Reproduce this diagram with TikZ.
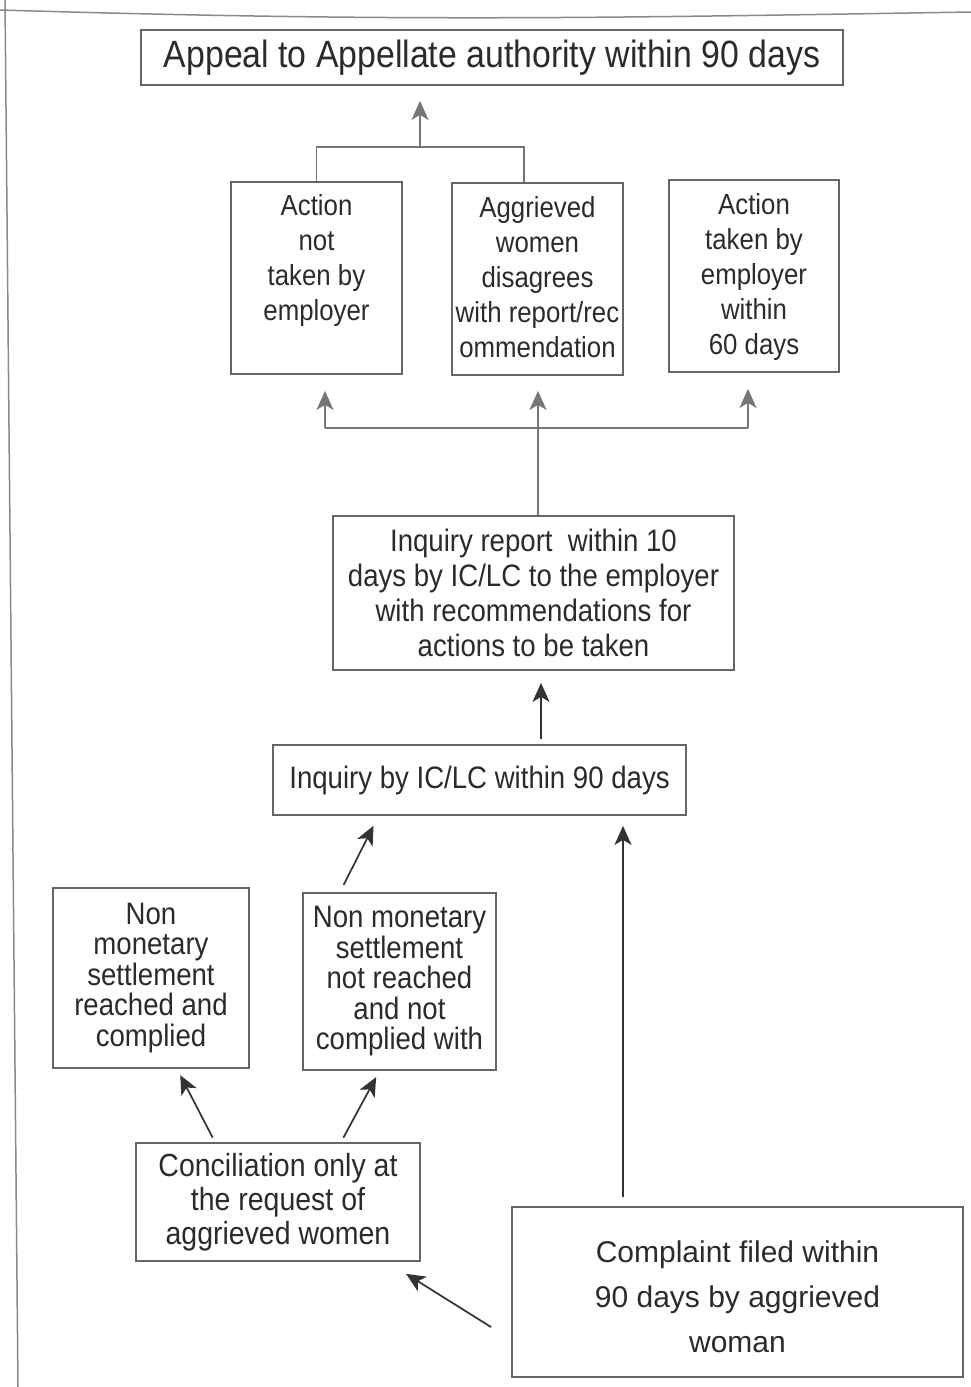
\documentclass[tikz,border=0pt]{standalone}
\usepackage{fontspec}
\setmainfont{Liberation Sans}[FakeStretch=0.89]
\newfontfamily\wideff{Liberation Sans}
\usetikzlibrary{arrows.meta}
\definecolor{ink}{HTML}{2B2B2B}
\definecolor{edge}{HTML}{666666}
\definecolor{lgray}{HTML}{767676}
\definecolor{dgray}{HTML}{333333}
\definecolor{scan}{HTML}{8A8A8A}
\begin{document}
\begin{tikzpicture}[x=1pt,y=-1pt,
  box/.style={draw=edge, line width=1.8pt, inner sep=0pt, text=ink, align=center},
  txt/.style={text=ink, align=center, inner sep=0pt},
  conn/.style={draw=lgray, line width=1.6pt},
  tip/.style={-{Stealth[length=19pt,width=17pt,inset=5pt]}},
  arrl/.style={conn, tip},
  arrd/.style={draw=dgray, line width=1.7pt, tip},
  fa/.style={font=\fontsize{29}{35}\selectfont},
  fb/.style={font=\fontsize{31}{35}\selectfont},
  fc/.style={font=\fontsize{31}{30.5}\selectfont},
  fd/.style={font=\fontsize{32}{34}\selectfont},
  fe/.style={font=\wideff\fontsize{30}{45}\selectfont}]
\useasboundingbox (0,0) rectangle (971,1387);
\fill[white] (0,0) rectangle (971,1387);
% scanned page border
\draw[scan, line width=1.5pt] (5,0) -- (18,1387);
\draw[scan, line width=1.5pt] (0,10) .. controls (400,22) and (600,18) .. (971,12);

% boxes
\node[box, minimum width=702pt, minimum height=55pt, font=\fontsize{38}{44}\selectfont] (appeal) at (492,57.5) {Appeal to Appellate authority within 90 days};

\node[box, minimum width=171pt, minimum height=192pt] (a1) at (316.5,278) {};
\node[txt, fa, anchor=north] (t1) at (316.5,194) {Action\\not\\taken by\\employer};
\node[box, minimum width=171pt, minimum height=192pt] (a2) at (537.5,279) {};
\node[txt, fa, anchor=north] (t2) at (537.5,196) {Aggrieved\\women\\disagrees\\with report/rec\\ommendation};
\node[box, minimum width=170pt, minimum height=192pt] (a3) at (754,276) {};
\node[txt, fa, anchor=north] (t3) at (754,193) {Action\\taken by\\employer\\within\\60 days};

\node[box, fb, minimum width=401pt, minimum height=154pt] (inqrep) at (533.5,593) {Inquiry report\ \ within 10\\days by IC/LC to the employer\\with recommendations for\\actions to be taken};
\node[box, fb, minimum width=413pt, minimum height=70pt] (inq) at (479.5,780) {Inquiry by IC/LC within 90 days};

\node[box, fc, minimum width=196pt, minimum height=180pt] (nm1) at (151,978) {Non\\monetary\\settlement\\reached and\\complied};
\node[box, fc, minimum width=193pt, minimum height=177pt] (nm2) at (399.5,981.5) {Non monetary\\settlement\\not reached\\and not\\complied with};

\node[box, fd, minimum width=284pt, minimum height=118pt] (conc) at (278,1202) {Conciliation only at\\the request of\\aggrieved women};
\node[box, minimum width=451pt, minimum height=170pt] (comp) at (737.5,1292) {};
\node[txt, fe] (tc) at (737.5,1297) {Complaint filed within\\90 days by aggrieved\\woman};

% top bracket to appeal
\coordinate (j1) at (316.5,147);
\coordinate (jm) at (420,147);
\coordinate (j2) at (524,147);
\draw[conn] (a1.north) -- (j1) -- (j2) -- (j2 |- a2.north);
\draw[arrl, shorten >=15pt] (jm) -- (jm |- appeal.south);

% from inquiry report to three outcomes
\coordinate (k1) at (325,428);
\coordinate (k2) at (538,428);
\coordinate (k3) at (748,428);
\draw[conn] (k1) -- (k3);
\draw[arrl, shorten >=15pt] (inqrep.north -| k2) -- (k2 |- a2.south);
\draw[arrl, shorten >=16pt] (k1) -- (k1 |- a1.south);
\draw[arrl, shorten >=16pt] (k3) -- (k3 |- a3.south);

% inquiry -> report
\draw[arrd, shorten <=5pt, shorten >=12pt] ([xshift=61.5pt]inq.north) -- ([xshift=61.5pt]inq.north |- inqrep.south);

% non monetary not reached -> inquiry
\draw[arrd, shorten <=8pt, shorten >=11pt] ([xshift=-59.5pt]nm2.north) -- ([xshift=-101pt]inq.south);

% conciliation -> settlements
\draw[arrd, shorten <=5pt, shorten >=7pt] ([xshift=-63pt]conc.north) -- ([xshift=26pt]nm1.south);
\draw[arrd, shorten <=5pt, shorten >=7pt] ([xshift=63pt]conc.north) -- ([xshift=-20pt]nm2.south);

% complaint -> inquiry
\draw[arrd, shorten <=9pt, shorten >=10pt] ([xshift=-114.5pt]comp.north) -- ([xshift=-114.5pt]comp.north |- inq.south);

% complaint -> conciliation
\draw[arrd, shorten <=23.6pt, shorten >=22.5pt] ([yshift=-47.6pt]comp.west) -- ([xshift=109pt]conc.south);
\end{tikzpicture}
\end{document}
